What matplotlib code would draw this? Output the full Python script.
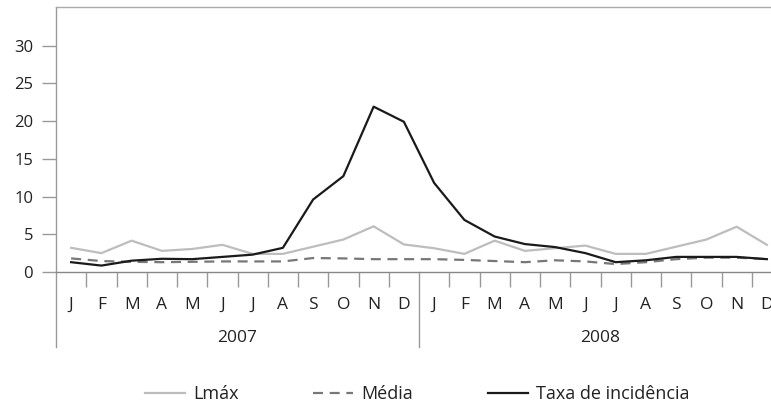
import matplotlib
matplotlib.use("Agg")
import matplotlib.pyplot as plt
import matplotlib.transforms as mtransforms

plt.rcParams["font.family"] = ["Open Sans", "DejaVu Sans"]

months = ["J", "F", "M", "A", "M", "J", "J", "A", "S", "O", "N", "D"] * 2
years = ["2007", "2008"]

lmax = [3.2, 2.5, 4.15, 2.8, 3.05, 3.6, 2.4, 2.4, 3.35, 4.3, 6.05, 3.65,
        3.15, 2.4, 4.15, 2.8, 3.15, 3.5, 2.4, 2.4, 3.35, 4.3, 6.0, 3.6]
media = [1.8, 1.45, 1.35, 1.3, 1.35, 1.4, 1.4, 1.4, 1.85, 1.8, 1.7, 1.7,
         1.7, 1.6, 1.45, 1.3, 1.55, 1.4, 1.05, 1.3, 1.7, 1.9, 1.9, 1.7]
taxa = [1.3, 0.85, 1.5, 1.75, 1.7, 2.0, 2.3, 3.2, 9.6, 12.7, 21.9, 19.9,
        11.8, 6.9, 4.7, 3.7, 3.3, 2.5, 1.3, 1.55, 2.0, 2.0, 2.0, 1.7]

W, H = 771, 405
fig = plt.figure(figsize=(W / 100, H / 100), dpi=100)
# axes runs past the right edge on purpose: the last "D" is cut in the source too
ax = fig.add_axes([56 / W, (H - 272) / H, 726 / W, 265 / H])

x = [i + 0.5 for i in range(len(months))]
l1, = ax.plot(x, lmax, color="#bdbdbd", lw=1.6, label="Lmáx")
l2, = ax.plot(x, media, color="#777777", lw=1.6, ls=(0, (4.5, 3)), label="Média")
l3, = ax.plot(x, taxa, color="#1a1a1a", lw=1.6, label="Taxa de incidência")

ax.set_xlim(0, 24)
ax.set_ylim(0, 35.1)

ax.spines["right"].set_visible(False)
ax.spines["top"].set_color("#aaaaaa")
ax.spines["left"].set_color("#999999")
ax.spines["bottom"].set_color("#888888")
for s in ax.spines.values():
    s.set_linewidth(1.0)

ax.set_yticks(range(0, 31, 5))
ax.tick_params(axis="y", length=10, width=1.0, color="#999999", pad=6.5,
               labelsize=12, labelcolor="#222222")

ax.set_xticks(x)
ax.set_xticklabels(months)
ax.tick_params(axis="x", which="major", length=0, pad=18, labelsize=12.5,
               labelcolor="#222222")
ax.set_xticks([b for b in range(1, 24) if b != 12], minor=True)
ax.tick_params(axis="x", which="minor", length=10.8, width=1.0, color="#999999")

# year separators reaching down through the month / year rows
trans = mtransforms.blended_transform_factory(ax.transData, ax.transAxes)
for b in (0, 12, 24):
    ax.plot([b, b], [0, -0.283], transform=trans, color="#999999", lw=1.0,
            clip_on=False)
for k, yr in enumerate(years):
    ax.text(6 + 12 * k, -0.249, yr, transform=trans, ha="center", va="center",
            fontsize=12.5, color="#222222")

fig.legend(handles=[l1, l2, l3], loc="center", bbox_to_anchor=(0.541, 0.027),
           ncol=3, frameon=False, fontsize=13, handlelength=2.2,
           handletextpad=0.45, columnspacing=4.15, labelcolor="#222222")

fig.savefig("out.png", dpi=100)
